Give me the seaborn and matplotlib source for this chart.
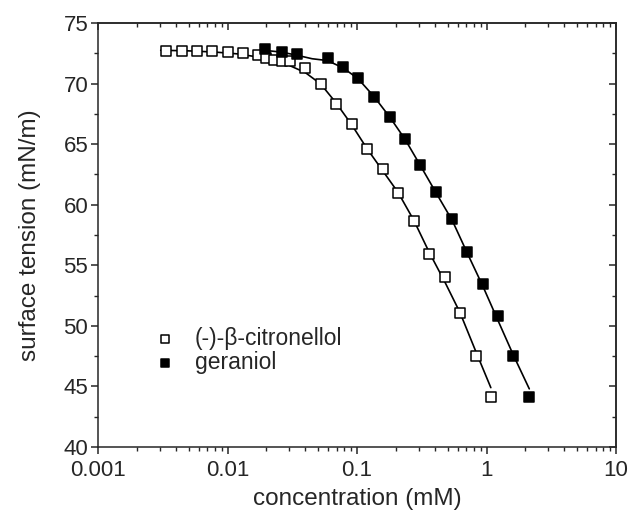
import numpy as np
import pandas as pd
import matplotlib
matplotlib.use("Agg")
import matplotlib.pyplot as plt
import seaborn as sns
from matplotlib.ticker import LogLocator, MultipleLocator, NullFormatter, FixedLocator, FixedFormatter

# ---- data ----
citronellol_c = [0.00335, 0.00443, 0.00585, 0.00764, 0.0100, 0.0132, 0.0172, 0.0198, 0.0229,
                 0.0265, 0.0304, 0.0397, 0.0525, 0.0689, 0.0910, 0.119, 0.158, 0.208, 0.275,
                 0.360, 0.476, 0.624, 0.826, 1.084]
citronellol_g = [72.71, 72.70, 72.70, 72.66, 72.60, 72.55, 72.38, 72.13, 71.94,
                 71.90, 71.86, 71.26, 69.94, 68.29, 66.63, 64.57, 62.92, 60.99, 58.68,
                 55.90, 54.03, 51.08, 47.50, 44.14]

geraniol_c = [0.0195, 0.0262, 0.0342, 0.0593, 0.0783, 0.102, 0.136, 0.180, 0.235,
              0.306, 0.407, 0.544, 0.711, 0.935, 1.22, 1.61, 2.14]
geraniol_g = [72.85, 72.58, 72.41, 72.08, 71.39, 70.43, 68.86, 67.26, 65.42,
              63.27, 61.07, 58.79, 56.12, 53.45, 50.81, 47.53, 44.14]

# fitted curves (vertices)
citronellol_fit_c = [0.00305, 0.005, 0.008, 0.012, 0.017, 0.023, 0.030, 0.040, 0.0525,
                     0.069, 0.091, 0.12, 0.158, 0.208, 0.275, 0.36, 0.478, 0.624, 0.826, 1.08]
citronellol_fit_g = [72.75, 72.70, 72.60, 72.45, 72.20, 71.90, 71.50, 70.90, 69.96,
                     68.40, 66.60, 64.60, 62.80, 61.00, 58.70, 56.10, 53.60, 51.10, 47.90, 44.90]

geraniol_fit_c = [0.019, 0.026, 0.034, 0.045, 0.059, 0.078, 0.102, 0.136, 0.180, 0.235,
                  0.306, 0.407, 0.544, 0.711, 0.935, 1.22, 1.61, 2.14]
geraniol_fit_g = [72.75, 72.60, 72.35, 72.05, 71.90, 71.30, 70.40, 68.90, 67.20, 65.40,
                  63.30, 61.00, 58.70, 56.00, 53.30, 50.50, 47.60, 44.80]

labels = ["(-)-\u03b2-citronellol", "geraniol"]
x_ticks = [0.001, 0.01, 0.1, 1, 10]
x_tick_labels = ["0.001", "0.01", "0.1", "1", "10"]

# ---- style ----
sns.set_style("ticks")
plt.rcParams["font.family"] = ["Liberation Sans", "DejaVu Sans"]
plt.rcParams["axes.linewidth"] = 1.1

fig = plt.figure(figsize=(6.3, 5.16), dpi=100)
ax = fig.add_axes([98 / 630, 1 - 447 / 516, 518 / 630, 424 / 516])

df_c = pd.DataFrame({"c": citronellol_c, "g": citronellol_g})
df_g = pd.DataFrame({"c": geraniol_c, "g": geraniol_g})
fit_c = pd.DataFrame({"c": citronellol_fit_c, "g": citronellol_fit_g})
fit_g = pd.DataFrame({"c": geraniol_fit_c, "g": geraniol_fit_g})

sns.lineplot(data=fit_c, x="c", y="g", ax=ax, color="black", lw=1.2, sort=False, estimator=None)
sns.lineplot(data=fit_g, x="c", y="g", ax=ax, color="black", lw=1.2, sort=False, estimator=None)

sns.scatterplot(data=df_c, x="c", y="g", ax=ax, marker="s", s=50, facecolor="white",
                edgecolor="black", linewidth=1.1, label=labels[0], zorder=3)
sns.scatterplot(data=df_g, x="c", y="g", ax=ax, marker="s", s=50, facecolor="black",
                edgecolor="black", linewidth=1.1, label=labels[1], zorder=3)

ax.set_xscale("log")
ax.set_xlim(0.001, 10)
ax.set_ylim(40, 75)

ax.xaxis.set_major_locator(FixedLocator(x_ticks))
ax.xaxis.set_major_formatter(FixedFormatter(x_tick_labels))
ax.xaxis.set_minor_locator(LogLocator(base=10, subs=np.arange(2, 10)))
ax.xaxis.set_minor_formatter(NullFormatter())
ax.yaxis.set_major_locator(MultipleLocator(5))
ax.yaxis.set_minor_locator(MultipleLocator(2.5))

ax.tick_params(which="major", direction="out", length=5, width=1.1, labelsize=16)
ax.tick_params(which="minor", direction="out", length=3, width=1.0)
ax.tick_params(axis="x", which="major", pad=4.5)
ax.tick_params(axis="y", which="major", pad=2)

for s in ["top", "right"]:
    ax.spines[s].set_visible(True)

# mirrored inward ticks on top and right
secx = ax.secondary_xaxis("top")
secx.xaxis.set_major_locator(FixedLocator(x_ticks))
secx.xaxis.set_minor_locator(LogLocator(base=10, subs=np.arange(2, 10)))
secx.tick_params(which="both", direction="in", labeltop=False)
secx.tick_params(which="major", length=5, width=1.1)
secx.tick_params(which="minor", length=3, width=1.0)
secx.xaxis.set_major_formatter(NullFormatter())
secx.xaxis.set_minor_formatter(NullFormatter())

secy = ax.secondary_yaxis("right")
secy.yaxis.set_major_locator(MultipleLocator(5))
secy.yaxis.set_minor_locator(MultipleLocator(2.5))
secy.tick_params(which="both", direction="in", labelright=False)
secy.tick_params(which="major", length=5, width=1.1)
secy.tick_params(which="minor", length=3, width=1.0)
secy.yaxis.set_major_formatter(NullFormatter())

ax.set_xlabel("concentration (mM)", fontsize=17.5, labelpad=5)
ax.set_ylabel("surface tension (mN/m)", fontsize=17.5, labelpad=16)

leg = ax.legend(loc="upper left", bbox_to_anchor=(0.09, 0.305), frameon=False, fontsize=16.5,
                markerscale=0.75, handlelength=1.0, handletextpad=0.8, labelspacing=0.05,
                borderaxespad=0.0)

fig.savefig("out.png", dpi=100)
